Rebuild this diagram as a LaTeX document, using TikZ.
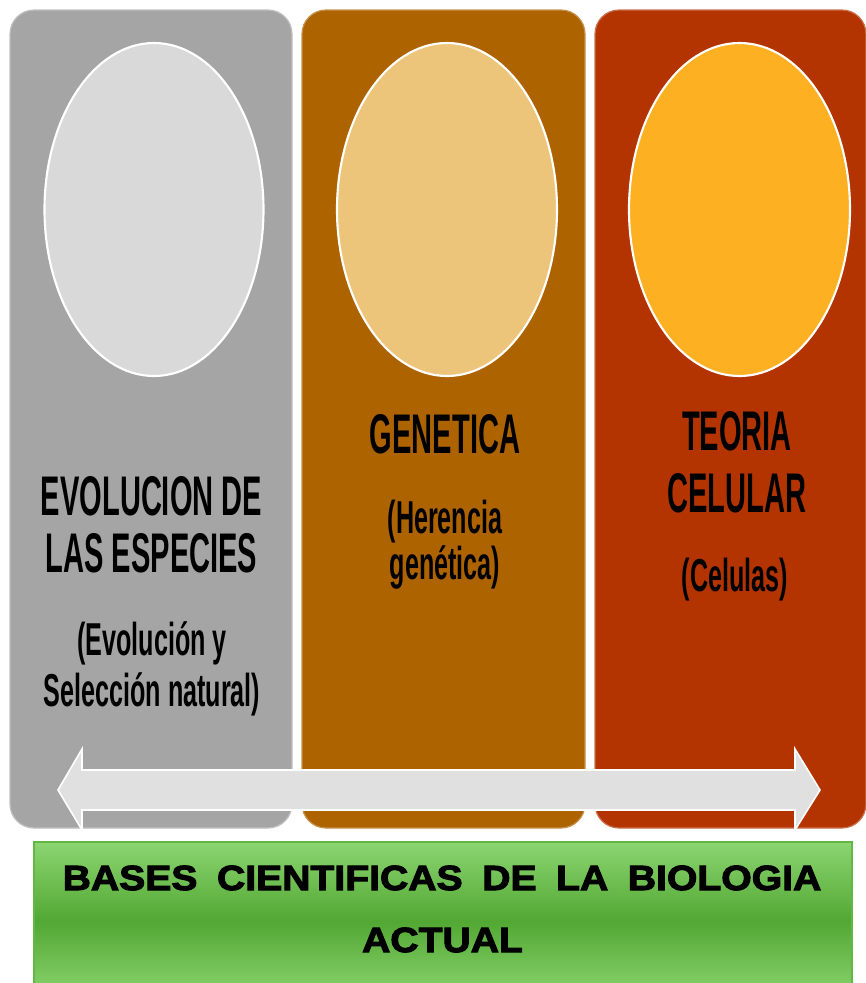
\documentclass[tikz,border=0pt]{standalone}
\usepackage{fontspec}
\setmainfont{Liberation Sans}
\newfontfamily\titlefont{Liberation Sans Bold}[FakeStretch=0.52]
\newfontfamily\subfont{Liberation Sans Bold}[FakeStretch=0.545]
\newfontfamily\basesfont{Liberation Sans Bold}[FakeStretch=1.12,FakeBold=3,WordSpace=1.8]
\definecolor{pgray}{HTML}{A5A5A5}
\definecolor{egray}{HTML}{D9D9D9}
\definecolor{pbrown}{HTML}{AD6300}
\definecolor{ebrown}{HTML}{EDC57A}
\definecolor{pred}{HTML}{B33400}
\definecolor{ered}{HTML}{FDB022}
\definecolor{arrowfill}{HTML}{E0E0E0}
\definecolor{gtop}{HTML}{8CD571}
\definecolor{gmid}{HTML}{52A833}
\definecolor{gborder}{HTML}{62B745}
\tikzset{
  panel/.style={line width=0.9pt, rounded corners=18pt},
  oval/.style={draw=white, line width=1.6pt},
  ttl/.style={anchor=base, inner sep=0pt, align=center},
  sub/.style={anchor=base, inner sep=0pt, align=center},
  bases/.style={anchor=base, inner sep=0pt, font=\basesfont\fontsize{26.2}{30}\selectfont},
}
\newcommand{\ttlsize}[1]{\titlefont\fontsize{41.9}{#1}\selectfont\lineskiplimit=-60pt\lineskip=0pt}
\newcommand{\subsize}[1]{\subfont\fontsize{34.6}{#1}\selectfont\lineskiplimit=-60pt\lineskip=0pt}
\begin{document}
\begin{tikzpicture}[x=0.75pt,y=-0.75pt]
\clip (0,0) rectangle (866,983);
\fill[white] (0,0) rectangle (866,983);
% panels
\draw[panel, fill=pgray, draw=pgray!70!white] (10,10) rectangle (292,828);
\draw[panel, fill=pbrown, draw=pbrown!70!white] (302,10) rectangle (585,828);
\draw[panel, fill=pred, draw=pred!70!white] (595,10) rectangle (866,828);
% ovals
\draw[oval, fill=egray] (154,209.5) ellipse [x radius=109.5, y radius=166.5];
\draw[oval, fill=ebrown] (447,209.5) ellipse [x radius=110, y radius=166.5];
\draw[oval, fill=ered] (739.5,209.5) ellipse [x radius=110.5, y radius=166.5];
% texts (base anchor = baseline of last line)
\node[ttl, font=\ttlsize{42.75}] (t1) at (151.5,572) {EVOLUCION DE\\LAS ESPECIES};
\node[sub, font=\subsize{38.25}] (s1) at (152,706) {(Evolución y\\Selección natural)};
\node[ttl, font=\ttlsize{44}] (t2) at (445,453) {GENETICA};
\node[sub, font=\subsize{34.5}] (s2) at (445,579) {(Herencia\\genética)};
\node[ttl, font=\ttlsize{46.5}] (t3) at (737,512) {TEORIA\\CELULAR};
\node[sub, font=\subsize{34.5}] (s3) at (735,591) {(Celulas)};
% double arrow
\draw[fill=arrowfill, draw=white, line width=1.2pt, line join=miter]
  (58,790) -- (82,749) -- (82,770) -- (795,770) -- (795,749) -- (820,790)
  -- (795,830) -- (795,810) -- (82,810) -- (82,830) -- cycle;
% green box
\path[draw=gborder, line width=1pt, top color=gtop, bottom color=gtop, middle color=gmid]
  (34,842) rectangle (852,1000);
\node[bases] (b1) at (442,890) {BASES CIENTIFICAS DE LA BIOLOGIA};
\node[bases] (b2) at (442.5,952) {ACTUAL};
\end{tikzpicture}
\end{document}
